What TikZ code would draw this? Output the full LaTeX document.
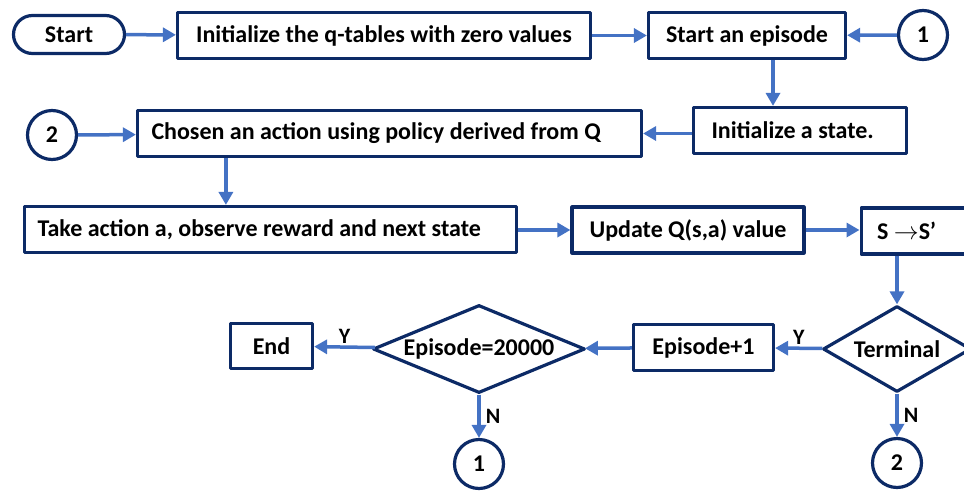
\documentclass[tikz,border=0pt]{standalone}
\usepackage{fontspec}
\setmainfont{Carlito}
\usetikzlibrary{arrows.meta,shapes.geometric}
\definecolor{navy}{HTML}{0C2A66}
\definecolor{flowblue}{HTML}{4472C4}

\begin{document}
\begin{tikzpicture}[x=1pt, y=-1pt, line join=round,
  box/.style={draw=navy, line width=3.2pt, inner sep=0pt,
    font=\bfseries\fontsize{24}{28}\selectfont},
  ring/.style={box, circle, minimum size=49pt},
  choice/.style={box, diamond},
  flow/.style={draw=flowblue, line width=3.5pt, -{Triangle[length=13pt,width=14pt]}},
  yn/.style={font=\bfseries\fontsize{22}{26}\selectfont, inner sep=2pt}]
\useasboundingbox (0,0) rectangle (964,491);
%\draw[help lines, step=50] (0,0) grid (964,491);

\node [box, rounded corners=19pt, minimum width=111pt, minimum height=38pt] (start) at (69,34.5) {Start};
\node [box, minimum width=413pt, minimum height=46pt] (init) at (384,35.5) {Initialize the q-tables with zero values};
\node [box, minimum width=197pt, minimum height=46pt] (episode) at (747,35.5) {Start an episode};
\node [ring] (c1) at (923,35) {1};

\node [box, minimum height=46pt, text width=177pt, inner xsep=18pt, align=flush left] (state) at (800,130.5) {Initialize a state.};
\node [box, minimum height=46pt, text width=476pt, inner xsep=14pt, align=flush left] (chosen) at (389.5,133.5) {Chosen an action using policy derived from Q};
\node [ring] (c2) at (52,135) {2};

\node [box, minimum height=46pt, text width=466pt, inner xsep=13pt, align=flush left] (take) at (270.5,229.5) {Take action a, observe reward and next state};
\node [box, minimum width=232pt, minimum height=46pt] (update) at (688,230) {Update Q(s,a) value};
\node [box, anchor=west, minimum height=46pt, text width=120pt, inner xsep=16pt, align=flush left] (snext) at (859.5,231) {S $\rightarrow$S’};

\node [choice, aspect=1.72, minimum width=148pt, minimum height=86pt] (term) at (897,349) {Terminal};
\node [box, minimum width=140pt, minimum height=46pt] (ep1) at (703.5,347.5) {Episode+1};
\node [choice, aspect=2.4, minimum width=212pt, minimum height=88pt] (dec) at (479,349) {Episode=20000};
\node [box, minimum width=82pt, minimum height=45pt] (end) at (271.5,346) {End};
\node [ring] (c1b) at (479,464) {1};
\node [ring] (c2b) at (897,463) {2};

\draw [flow] (start) -- (init);
\draw [flow] (init) -- (episode);
\draw [flow] (c1) -- (episode);
\draw [flow] ([xshift=26pt]episode.south) -- ([xshift=26pt]episode.south |- state.north);
\draw [flow] (chosen.east -| state.west) -- (chosen.east);
\draw [flow] (c2) -- (chosen);
\draw [flow] ([xshift=90pt]chosen.south west) -- ([xshift=90pt]chosen.south west |- take.north);
\draw [flow] (take.east |- update) -- (update);
\draw [flow] (update) -- (update -| snext.west);
\draw [flow] (term.north |- snext.south) -- (term.north);
\draw [flow] (term) -- (ep1) node [yn, midway, above] (yterm) {Y};
\draw [flow] (ep1) -- (dec);
\draw [flow] (dec) -- (end) node [yn, midway, above] (ydec) {Y};
\draw [flow] (dec) -- (c1b) node [yn, midway, right, xshift=3pt] (ndec) {N};
\draw [flow] (term) -- (c2b) node [yn, midway, right, xshift=3pt] (nterm) {N};
\end{tikzpicture}
\end{document}
